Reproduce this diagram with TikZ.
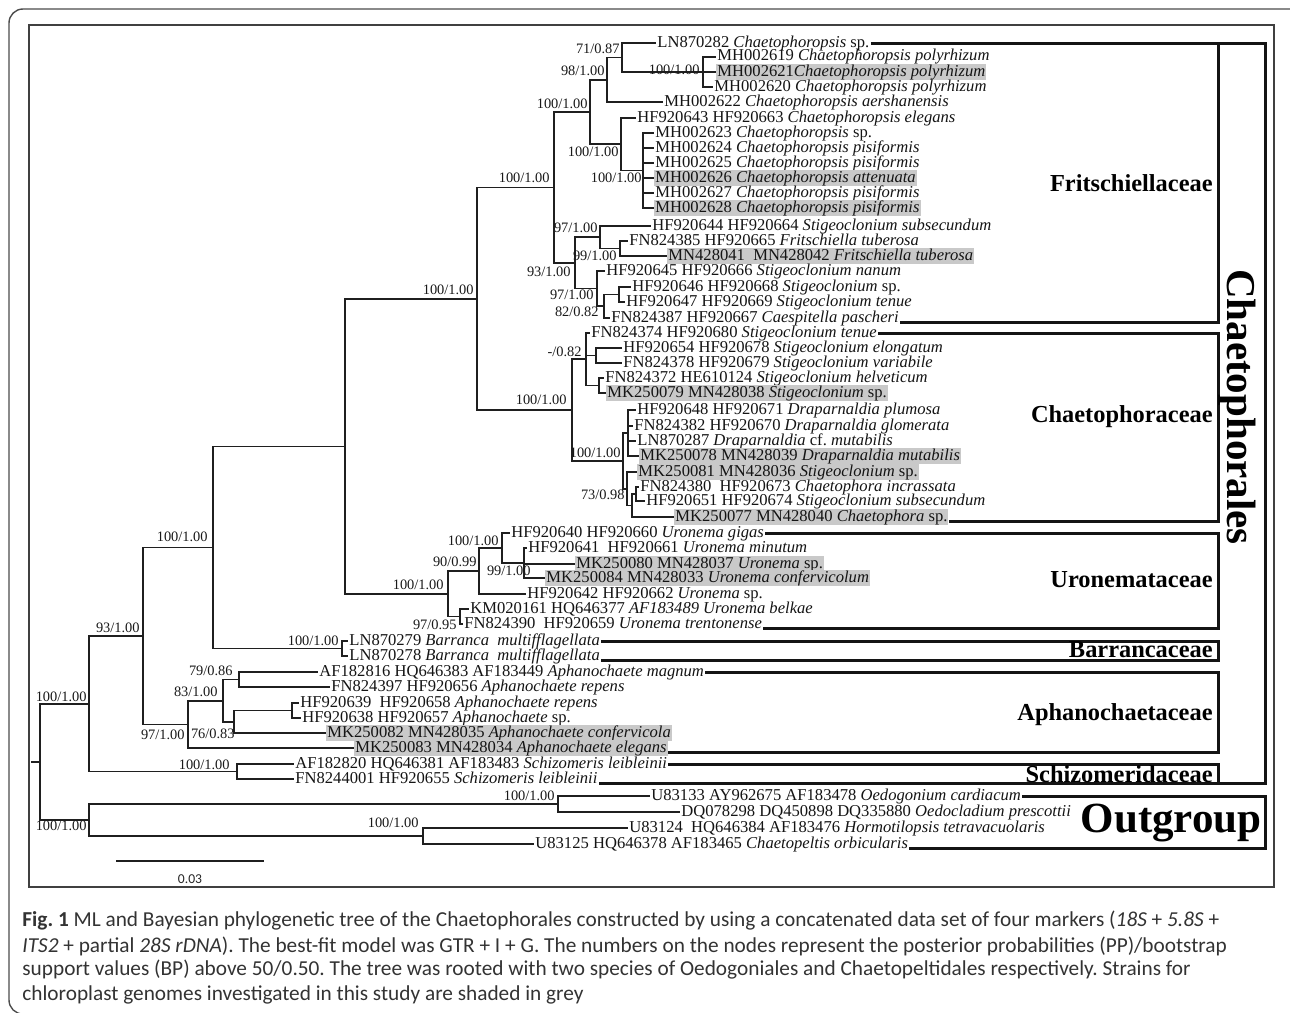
\documentclass[tikz,border=0pt]{standalone}
\usepackage{fontspec}
\setmainfont{Liberation Serif}
\newfontfamily\capfont{Carlito}
\frenchspacing
\begin{document}
\begin{tikzpicture}[x=0.5pt,y=-0.5pt,
  tree/.style={line width=0.75pt, draw=black!88},
  leaf/.style={anchor=west, inner xsep=0.5pt, inner ysep=0.4pt, text height=5.7pt, text depth=1.7pt, font=\fontsize{8.3}{9}\selectfont, text=black!92},
  shd/.style={leaf, fill=black!21},
  supp/.style={anchor=east, inner sep=0pt, font=\fontsize{7.2}{8}\selectfont, text=black!90},
  brk/.style={line width=1.5pt, draw=black!92},
  fam/.style={anchor=base east, inner sep=0pt, font=\fontsize{12.2}{14}\selectfont\bfseries},
  captxt/.style={anchor=west, inner sep=0pt, font=\capfont\fontsize{10.65}{12}\selectfont, text=black!80},
  frame/.style={line width=0.7pt, draw=black!75}
]
\useasboundingbox (0,0) rectangle (1290,1012);
% borders
\draw[line width=0.7pt, draw=black!70, rounded corners=7pt] (1300,9) -- (9,9) -- (9,1014) -- (1300,1014);
\draw[frame] (29,25) rectangle (1274,887);

% ---------- leaves ----------
\node[leaf] (L1) at (656,43) {LN870282 \textit{Chaetophoropsis} sp.};
\node[leaf] (L2) at (716,57) {MH002619 \textit{Chaetophoropsis polyrhizum}};
\node[shd]  (L3) at (716,72) {MH002621\textit{Chaetophoropsis polyrhizum}};
\node[leaf] (L4) at (713,87) {MH002620 \textit{Chaetophoropsis polyrhizum}};
\node[leaf] (L5) at (663,102) {MH002622 \textit{Chaetophoropsis aershanensis}};
\node[leaf] (L6) at (636,118) {HF920643 HF920663 \textit{Chaetophoropsis elegans}};
\node[leaf] (L7) at (654,133) {MH002623 \textit{Chaetophoropsis} sp.};
\node[leaf] (L8) at (654,148) {MH002624 \textit{Chaetophoropsis pisiformis}};
\node[leaf] (L9) at (654,163) {MH002625 \textit{Chaetophoropsis pisiformis}};
\node[shd]  (L10) at (654,178) {MH002626 \textit{Chaetophoropsis attenuata}};
\node[leaf] (L11) at (654,193) {MH002627 \textit{Chaetophoropsis pisiformis}};
\node[shd]  (L12) at (654,208) {MH002628 \textit{Chaetophoropsis pisiformis}};
\node[leaf] (L13) at (651,226) {HF920644 HF920664 \textit{Stigeoclonium subsecundum}};
\node[leaf] (L14) at (628,241) {FN824385 HF920665 \textit{Fritschiella tuberosa}};
\node[shd]  (L15) at (667,256) {MN428041~~MN428042 \textit{Fritschiella tuberosa}};
\node[leaf] (L16) at (605,271) {HF920645 HF920666 \textit{Stigeoclonium nanum}};
\node[leaf] (L17) at (631,287) {HF920646 HF920668 \textit{Stigeoclonium} sp.};
\node[leaf] (L18) at (625,302) {HF920647 HF920669 \textit{Stigeoclonium tenue}};
\node[leaf] (L19) at (610,318) {FN824387 HF920667 \textit{Caespitella pascheri}};
\node[leaf] (L20) at (590,333) {FN824374 HF920680 \textit{Stigeoclonium tenue}};
\node[leaf] (L21) at (622,348) {HF920654 HF920678 \textit{Stigeoclonium elongatum}};
\node[leaf] (L22) at (622,363) {FN824378 HF920679 \textit{Stigeoclonium variabile}};
\node[leaf] (L23) at (604,378) {FN824372 HE610124 \textit{Stigeoclonium helveticum}};
\node[shd]  (L24) at (606,393) {MK250079 MN428038 \textit{Stigeoclonium} sp.};
\node[leaf] (L25) at (636,410) {HF920648 HF920671 \textit{Draparnaldia plumosa}};
\node[leaf] (L26) at (633,426) {FN824382 HF920670 \textit{Draparnaldia glomerata}};
\node[leaf] (L27) at (636,441) {LN870287 \textit{Draparnaldia} cf. \textit{mutabilis}};
\node[shd]  (L28) at (639,456) {MK250078 MN428039 \textit{Draparnaldia mutabilis}};
\node[shd]  (L29) at (637,472) {MK250081 MN428036 \textit{Stigeoclonium} sp.};
\node[leaf] (L30) at (639,487) {FN824380~~HF920673 \textit{Chaetophora incrassata}};
\node[leaf] (L31) at (645,501) {HF920651 HF920674 \textit{Stigeoclonium subsecundum}};
\node[shd]  (L32) at (674,517) {MK250077 MN428040 \textit{Chaetophora} sp.};
\node[leaf] (L33) at (510,533) {HF920640 HF920660 \textit{Uronema gigas}};
\node[leaf] (L34) at (527,548) {HF920641~~HF920661 \textit{Uronema minutum}};
\node[shd]  (L35) at (575,564) {MK250080 MN428037 \textit{Uronema} sp.};
\node[shd]  (L36) at (545,578) {MK250084 MN428033 \textit{Uronema confervicolum}};
\node[leaf] (L37) at (526,594) {HF920642 HF920662 \textit{Uronema} sp.};
\node[leaf] (L38) at (469,609) {KM020161 HQ646377 \textit{AF183489 Uronema belkae}};
\node[leaf] (L39) at (463,624) {FN824390~~HF920659 \textit{Uronema trentonense}};
\node[leaf] (L40) at (348,641) {LN870279 \textit{Barranca~~multifflagellata}};
\node[leaf] (L41) at (348,656) {LN870278 \textit{Barranca~~multifflagellata}};
\node[leaf] (L42) at (318,672) {AF182816 HQ646383 AF183449 \textit{Aphanochaete magnum}};
\node[leaf] (L43) at (330,687) {FN824397 HF920656 \textit{Aphanochaete repens}};
\node[leaf] (L44) at (299,703) {HF920639~~HF920658 \textit{Aphanochaete repens}};
\node[leaf] (L45) at (301,718) {HF920638 HF920657 \textit{Aphanochaete} sp.};
\node[shd]  (L46) at (326,733) {MK250082 MN428035 \textit{Aphanochaete confervicola}};
\node[shd]  (L47) at (354,748) {MK250083 MN428034 \textit{Aphanochaete elegans}};
\node[leaf] (L48) at (294,764) {AF182820 HQ646381 AF183483 \textit{Schizomeris leibleinii}};
\node[leaf] (L49) at (294,779) {FN8244001 HF920655 \textit{Schizomeris leibleinii}};
\node[leaf] (L50) at (650,796) {U83133 AY962675 AF183478 \textit{Oedogonium cardiacum}};
\node[leaf] (L51) at (680,812) {DQ078298 DQ450898 DQ335880 \textit{Oedocladium prescottii}};
\node[leaf] (L52) at (628,828) {U83124~~HQ646384 AF183476 \textit{Hormotilopsis tetravacuolaris}};
\node[leaf] (L53) at (534,844) {U83125 HQ646378 AF183465 \textit{Chaetopeltis orbicularis}};

% ---------- internal nodes ----------
\coordinate (r0) at (31,762);
\coordinate (root) at (40,762);
\coordinate (nD) at (89,704);
\coordinate (nOut) at (89,820);
\coordinate (n93c) at (143,636);
\coordinate (nSch) at (237,771.5);
\coordinate (nB) at (213,547.5);
\coordinate (n97c) at (188,724.5);
\coordinate (nA) at (345,446.5);
\coordinate (nBar) at (342,648.5);
\coordinate (nFC) at (477,299);
\coordinate (nU) at (448,594);
\coordinate (nF) at (554,187.5);
\coordinate (nCh) at (572,410);
\coordinate (nCp) at (590,112);
\coordinate (n93) at (575,263);
\coordinate (n98) at (607,80);
\coordinate (nEp) at (621,144);
\coordinate (n71) at (622,57.5);
\coordinate (nPoly) at (703,72);
\coordinate (nPis) at (643,170.5);
\coordinate (n97a) at (600,237);
\coordinate (n99) at (620,248.5);
\coordinate (n97b) at (597,288.5);
\coordinate (n82) at (604,306);
\coordinate (nSp) at (619,294.5);
\coordinate (n082) at (586,359);
\coordinate (nEl) at (596,355.5);
\coordinate (nHe) at (599,385.5);
\coordinate (nDr) at (623,461);
\coordinate (nDrap) at (628,433);
\coordinate (n73) at (627,489);
\coordinate (nX) at (632,505.5);
\coordinate (nInc) at (636,494);
\coordinate (n90) at (479,571);
\coordinate (n97u) at (460,616.5);
\coordinate (n100u) at (502,548);
\coordinate (n99u) at (524,563);
\coordinate (n83) at (223,701);
\coordinate (n79) at (239,679.5);
\coordinate (n76) at (234,722);
\coordinate (nAp) at (292,710.5);
\coordinate (nOe) at (558,804);
\coordinate (nHor) at (423,836);

% ---------- branches ----------
\draw[tree] (r0) -- (root);
\foreach \p/\c in {root/nD, root/nOut, nD/n93c, nD/nSch, n93c/nB, n93c/n97c,
  nB/nA, nB/nBar, nA/nFC, nA/nU, nFC/nF, nFC/nCh, nF/nCp, nF/n93,
  nCp/n98, nCp/nEp, n98/n71, n98/L5.west, n71/L1.west, n71/nPoly,
  nPoly/L2.west, nPoly/L3.west, nPoly/L4.west, nEp/L6.west, nEp/nPis,
  nPis/L7.west, nPis/L8.west, nPis/L9.west, nPis/L10.west, nPis/L11.west, nPis/L12.west,
  n93/n97a, n93/n97b, n97a/L13.west, n97a/n99, n99/L14.west, n99/L15.west,
  n97b/L16.west, n97b/n82, n82/nSp, n82/L19.west, nSp/L17.west, nSp/L18.west,
  nCh/n082, nCh/nDr, n082/L20.west, n082/nEl, n082/nHe, nEl/L21.west, nEl/L22.west,
  nHe/L23.west, nHe/L24.west, nDr/nDrap, nDr/n73,
  nDrap/L25.west, nDrap/L26.west, nDrap/L27.west, nDrap/L28.west,
  n73/L29.west, n73/nX, nX/nInc, nX/L32.west, nInc/L30.west, nInc/L31.west,
  nU/n90, nU/n97u, n90/n100u, n90/L37.west, n100u/L33.west, n100u/n99u,
  n99u/L34.west, n99u/L35.west, n99u/L36.west, n97u/L38.west, n97u/L39.west,
  nBar/L40.west, nBar/L41.west, n97c/n83, n97c/L47.west, n83/n79, n83/n76,
  n79/L42.west, n79/L43.west, n76/nAp, n76/L46.west, nAp/L44.west, nAp/L45.west,
  nSch/L48.west, nSch/L49.west, nOut/nOe, nOut/nHor,
  nOe/L50.west, nOe/L51.west, nHor/L52.west, nHor/L53.west}
  \draw[tree] (\p) |- (\c);

% ---------- support values ----------
\node[supp] (s71) at (620,49) {71/0.87};
\node[supp] (s98) at (605,71) {98/1.00};
\node[supp] (sCp) at (588,104) {100/1.00};
\node[supp] (sPoly) at (700,70) {100/1.00};
\node[supp] (sEp) at (619,152) {100/1.00};
\node[supp] (sPis) at (642,178) {100/1.00};
\node[supp] (sF) at (550,178) {100/1.00};
\node[supp] (s97a) at (598,228) {97/1.00};
\node[supp] (s99) at (617,256) {99/1.00};
\node[supp] (s93) at (571,272) {93/1.00};
\node[supp] (s97b) at (594,295) {97/1.00};
\node[supp] (s82) at (599,312) {82/0.82};
\node[supp] (sFC) at (474,290) {100/1.00};
\node[supp] (s082) at (582,352) {-/0.82};
\node[supp] (sCh) at (567,400) {100/1.00};
\node[supp] (sDr) at (621,453) {100/1.00};
\node[supp] (s73) at (625,495) {73/0.98};
\node[supp] (s100u) at (499,541) {100/1.00};
\node[supp] (s90) at (477,562) {90/0.99};
\node[supp] (s99u) at (531,571) {99/1.00};
\node[supp] (sU) at (444,585) {100/1.00};
\node[supp] (s97u) at (457,625) {97/0.95};
\node[supp] (sB) at (208,537) {100/1.00};
\node[supp] (sBar) at (339,641) {100/1.00};
\node[supp] (s93c) at (140,628) {93/1.00};
\node[supp] (sD) at (87,697) {100/1.00};
\node[supp] (s79) at (233,671) {79/0.86};
\node[supp] (s83) at (218,692) {83/1.00};
\node[supp] (s97c) at (185,735) {97/1.00};
\node[supp] (s76) at (235,734) {76/0.83};
\node[supp] (sSch) at (230,765) {100/1.00};
\node[supp] (sOe) at (555,796) {100/1.00};
\node[supp] (sHor) at (419,823) {100/1.00};
\node[supp] (sOut) at (87,826) {100/1.00};

% ---------- brackets ----------
\coordinate (ordR) at (1265,0);
\coordinate (famR) at (1218,0);
\draw[brk] (L1.east) -- (L1.east -| ordR) -- (L49.base east -| ordR) -- (L49.base east);
\draw[brk] (L1.east -| famR) -- (L19.base east -| famR) -- (L19.base east);
\draw[brk] (L20.east) -- (L20.east -| famR) -- (L32.base east -| famR) -- (L32.base east);
\draw[brk] (L33.east) -- (L33.east -| famR) -- (L39.base east -| famR) -- (L39.base east);
\draw[brk] (L40.east) -- (L40.east -| famR) -- (L41.base east -| famR) -- (L41.base east);
\draw[brk] (L42.east) -- (L42.east -| famR) -- (L47.base east -| famR) -- (L47.base east);
\draw[brk] (L48.east) -- (L48.east -| famR) -- (L49.base east -| famR);
\draw[brk] (L50.east) -- (L50.east -| ordR) -- (L53.base east -| ordR) -- (L53.base east);

\node[fam] (fF) at (1213,191) {Fritschiellaceae};
\node[fam] (fC) at (1213,422) {Chaetophoraceae};
\node[fam] (fU) at (1213,587) {Uronemataceae};
\node[fam] (fB) at (1213,657) {Barrancaceae};
\node[fam] (fA) at (1213,720) {Aphanochaetaceae};
\node[fam] (fS) at (1213,782) {Schizomeridaceae};
\node[anchor=base east, inner sep=0pt, font=\fontsize{21.5}{24}\selectfont\bfseries] (fO) at (1262,832) {Outgroup};
\node[anchor=base, rotate=-90, inner sep=0pt, font=\fontsize{20.5}{24}\selectfont\bfseries] (ord) at (1227,407) {Chaetophorales};

% ---------- scale bar ----------
\coordinate (sb1) at (116,861);
\coordinate (sb2) at (264,861);
\draw[tree] (sb1) -- (sb2);
\node[inner sep=0pt, font=\capfont\fontsize{6.8}{8}\selectfont, text=black!85] (sbl) at (190,879) {0.03};

% ---------- caption ----------
\node[captxt] (c1) at (22,921) {\textbf{Fig. 1} ML and Bayesian phylogenetic tree of the Chaetophorales constructed by using a concatenated data set of four markers (\textit{18S} + \textit{5.8S} +};
\node[captxt] (c2) at (22,946) {\textit{ITS2} + partial \textit{28S rDNA}). The best-fit model was GTR + I + G. The numbers on the nodes represent the posterior probabilities (PP)/bootstrap};
\node[captxt] (c3) at (22,970) {support values (BP) above 50/0.50. The tree was rooted with two species of Oedogoniales and Chaetopeltidales respectively. Strains for};
\node[captxt] (c4) at (22,995) {chloroplast genomes investigated in this study are shaded in grey};
\end{tikzpicture}
\end{document}
